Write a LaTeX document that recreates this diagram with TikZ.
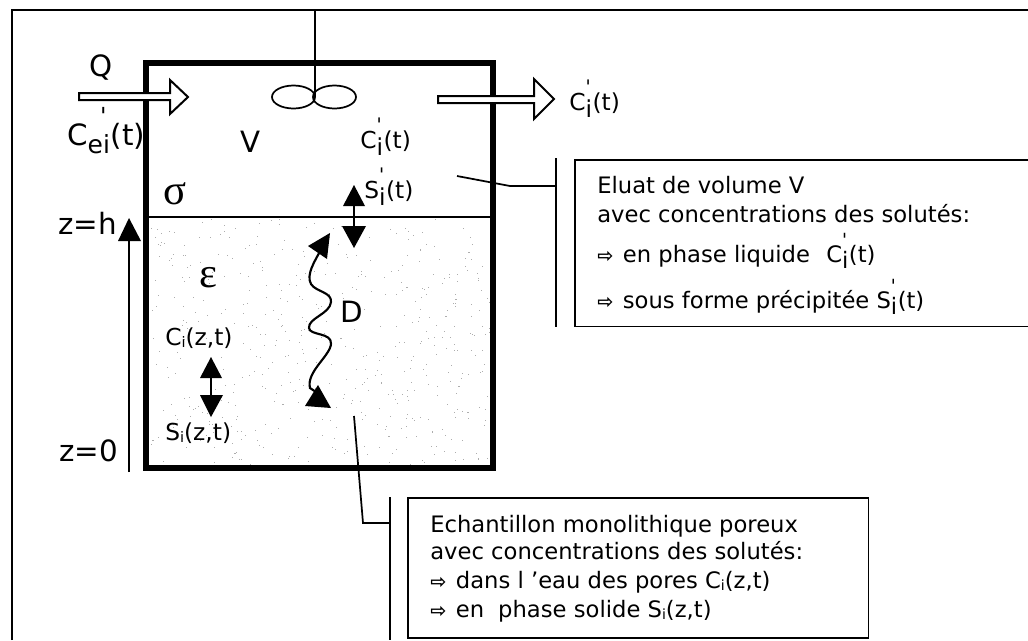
\documentclass[tikz,border=0pt]{standalone}
\usepackage{fontspec}
\setmainfont{DejaVu Sans}
\newfontfamily\grk{Liberation Serif}
\newcommand{\PrimeMark}{\textquotesingle}
\newcommand{\SubPrime}[1]{\rlap{\raisebox{-.3em}{#1}}\rlap{\raisebox{.7em}{\scalebox{.8}{\PrimeMark}}}\hspace{.3em}}
\newcommand{\SubLow}[1]{\raisebox{-.12em}{\scalebox{.62}{#1}}}
\newcommand{\Bul}{\scalebox{.85}{\bfseries ⇨}\hspace{.42em}}
\tikzset{
  x=0.75pt,y=-0.75pt,
  wall/.style={line width=4.5pt},
  thin line/.style={line width=1.3pt},
  hair/.style={line width=1pt},
  pipe/.style={line width=1.5pt,fill=white,line join=miter},
  tip/.style={fill=black,draw=none},
  lbl/.style={inner sep=0pt,font=\fontsize{17.5}{20}\selectfont},
  biglbl/.style={inner sep=0pt,font=\fontsize{22}{25}\selectfont},
  grklbl/.style={inner sep=0pt,font=\fontsize{32}{34}\selectfont\grk},
  notebox/.style={draw,line width=1.3pt,anchor=north west,inner sep=0pt},
  notetxt/.style={anchor=base west,inner sep=0pt,font=\fontsize{17}{20}\selectfont},
}
\begin{document}
\begin{tikzpicture}
\useasboundingbox (0,0) rectangle (1028,640);
\fill[white] (0,0) rectangle (1028,640);
% stipple
\pgfmathsetseed{4711}
\foreach \i in {1,...,520}{
  \pgfmathsetmacro{\px}{150+340*rnd}
  \pgfmathsetmacro{\py}{219+245*rnd}
  \fill[black!32] (\px,\py) rectangle +(1,1);
}
% frame
\coordinate (fa) at (12,640);
\coordinate (fb) at (12,10);
\coordinate (fc) at (1028,10);
\draw[hair] (fa) -- (fb) -- (fc);
% vessel
\coordinate (v1) at (146,63);
\coordinate (v2) at (493,468);
\draw[wall] (v1) rectangle (v2);
\coordinate (il) at (149,217);
\coordinate (ir) at (490,217);
\draw[thin line] (il) -- (ir);
% stirrer
\coordinate (s1) at (315,10);
\coordinate (s2) at (315,97);
\draw[thin line] (s1) -- (s2);
\draw[thin line] (293.5,97) ellipse [x radius=21.5,y radius=11.5];
\draw[thin line] (334.5,97) ellipse [x radius=21.5,y radius=11.5];
% inlet
\draw[pipe] (79,93) -- (170,93) -- (170,80) -- (188,97) -- (170,114) -- (170,100) -- (79,100) -- cycle;
% outlet
\draw[pipe] (438,96) -- (534,96) -- (534,79) -- (554,99) -- (534,119) -- (534,103) -- (438,103) -- cycle;
% z arrow
\coordinate (za) at (129,472);
\coordinate (zb) at (129,235);
\draw[thin line] (za) -- (zb);
\fill[tip] (129,218) -- (141,241) -- (118,241) -- cycle;
% double arrows
\coordinate (d1) at (354,200);
\coordinate (d2) at (354,232);
\draw[thin line] (d1) -- (d2);
\fill[tip] (354,185) -- (365,206) -- (343,206) -- cycle;
\fill[tip] (354,248) -- (366,226) -- (342,226) -- cycle;
\coordinate (e1) at (211,370);
\coordinate (e2) at (211,400);
\draw[thin line] (e1) -- (e2);
\fill[tip] (211,357) -- (222,378) -- (200,378) -- cycle;
\fill[tip] (211,417) -- (223,395) -- (200,395) -- cycle;
% wavy
\coordinate (w1) at (322,248);
\coordinate (w2) at (316,392);
\draw[line width=1.6pt] (w1) .. controls (314,262) and (306,275) .. (311,284)
  .. controls (316,292) and (332,292) .. (331,302)
  .. controls (330,314) and (308,318) .. (309,328)
  .. controls (310,336) and (332,332) .. (331,344)
  .. controls (330,356) and (306,372) .. (310,388) -- (w2);
\fill[tip] (330,233) -- (327,259) -- (308,246) -- cycle;
\fill[tip] (318,385) -- (331,408) -- (305,406) -- cycle;
% boxes
\node[notebox,minimum width=342pt,minimum height=125pt] (nb1) at (574,159) {};
\node[notebox,minimum width=345.5pt,minimum height=105pt] (nb2) at (407,497) {};
% connectors
\coordinate (k1) at (457,176);
\coordinate (k2) at (510,186);
\coordinate (k3) at (556,186);
\coordinate (b1a) at (556,158);
\coordinate (b1b) at (556,327);
\draw[thin line] (k1) -- (k2) -- (k3);
\draw[thin line] (b1a) -- (b1b);
\coordinate (m1) at (354,416);
\coordinate (m2) at (363,523);
\coordinate (m3) at (390,523);
\coordinate (b2a) at (390,497);
\coordinate (b2b) at (390,640);
\draw[thin line] (m1) -- (m2) -- (m3);
\draw[thin line] (b2a) -- (b2b);
% labels
\node[biglbl] (tq) at (101,68) {Q};
\node[biglbl,anchor=base west] (tce) at (67,145) {C\rlap{\raisebox{-.3em}{\scalebox{.85}{ei}}}\rlap{\hspace{.42em}\raisebox{.7em}{\scalebox{.8}{\PrimeMark}}}\hspace{.78em}(t)};
\node[biglbl] (tv) at (251,142) {V};
\node[lbl,anchor=base west] (tci) at (360,148) {C\SubPrime{i}(t)};
\node[lbl,anchor=base west] (tsi) at (364,198) {S\SubPrime{i}(t)};
\node[lbl,anchor=base west] (tco) at (569,110) {C\SubPrime{i}(t)};
\node[grklbl,anchor=base] (tsig) at (175,204) {σ};
\node[grklbl,anchor=base] (teps) at (208,287) {ε};
\node[biglbl,anchor=base west] (tzh) at (58,234) {z=h};
\node[biglbl,anchor=base west] (tz0) at (59,461) {z=0};
\node[biglbl] (tD) at (352,312) {D};
\node[lbl,anchor=base west] (tcz) at (165,345) {C\SubLow{i}(z,t)};
\node[lbl,anchor=base west] (tsz) at (165,440) {S\SubLow{i}(z,t)};
% note text
\node[notetxt] (n1a) at (597,193) {Eluat de volume V};
\node[notetxt] (n1b) at (597,222) {avec concentrations des solutés:};
\node[notetxt] (n1c) at (597,262) {\Bul en phase liquide\hspace{.4em} C\SubPrime{i}(t)};
\node[notetxt] (n1d) at (597,308) {\Bul sous forme précipitée S\SubPrime{i}(t)};
\node[notetxt] (n2a) at (430,532) {Echantillon monolithique poreux};
\node[notetxt] (n2b) at (430,559) {avec concentrations des solutés:};
\node[notetxt] (n2c) at (430,588) {\Bul dans l ’eau des pores C\SubLow{i}(z,t)};
\node[notetxt] (n2d) at (430,617) {\Bul en\hspace{.3em} phase solide S\SubLow{i}(z,t)};
\end{tikzpicture}
\end{document}
